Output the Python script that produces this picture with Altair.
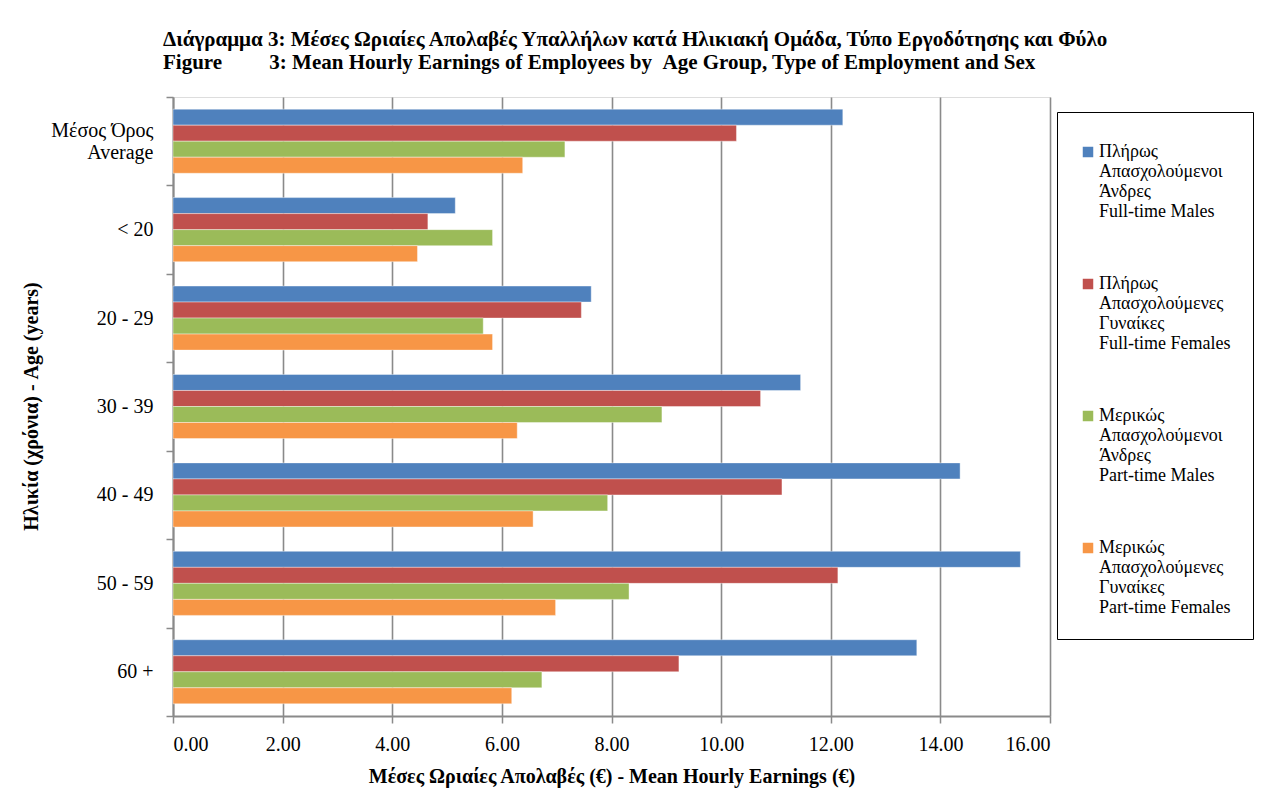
import altair as alt
import pandas as pd

NB = "\u00a0"
categories = ["Μέσος Όρος|Average" + NB * 4, "< 20", "20 - 29", "30 - 39", "40 - 49", "50 - 59", "60 +"]
series = [
    "Πλήρως|Απασχολούμενοι|Άνδρες|Full-time Males",
    "Πλήρως|Απασχολούμενες|Γυναίκες|Full-time Females",
    "Μερικώς|Απασχολούμενοι|Άνδρες|Part-time Males",
    "Μερικώς|Απασχολούμενες|Γυναίκες|Part-time Females",
]
colors = ["#4F81BD", "#C0504D", "#9BBB59", "#F79646"]
full_time_males = [12.22, 5.15, 7.63, 11.45, 14.36, 15.46, 13.57]
full_time_females = [10.28, 4.65, 7.45, 10.72, 11.11, 12.13, 9.23]
part_time_males = [7.15, 5.83, 5.66, 8.92, 7.93, 8.32, 6.73]
part_time_females = [6.38, 4.46, 5.83, 6.28, 6.57, 6.98, 6.18]
x_ticks = [0, 2, 4, 6, 8, 10, 12, 14, 16]

values = [full_time_males, full_time_females, part_time_males, part_time_females]
rows = []
for s, vals in zip(series, values):
    for c, v in zip(categories, vals):
        rows.append({"age": c, "series": s, "value": v})
df = pd.DataFrame(rows)

FONT = "Liberation Serif"
title_lines = [
    "Διάγραμμα 3: Μέσες Ωριαίες Απολαβές Υπαλλήλων κατά Ηλικιακή Ομάδα, Τύπο Εργοδότησης και Φύλο",
    "Figure" + NB * 9 + "3: Mean Hourly Earnings of Employees by" + NB * 2 + "Age Group, Type of Employment and Sex",
]

chart = alt.Chart(df).mark_bar(stroke="white", strokeOpacity=0.5, strokeWidth=0.8).encode(
    x=alt.X("value:Q",
            scale=alt.Scale(domain=[0, 16], nice=False),
            axis=alt.Axis(values=x_ticks, format=".2f", title="Μέσες Ωριαίες Απολαβές (€) - Mean Hourly Earnings (€)",
                          grid=True, gridColor="#8a8a8a", gridWidth=1.6,
                          domainColor="#8a8a8a", domainWidth=2,
                          tickColor="#8a8a8a", tickSize=7, tickWidth=1.5,
                          labelFont=FONT, labelFontSize=20, labelColor="black", labelPadding=11,
                          titleFont=FONT, titleFontSize=20, titleFontWeight="bold", titleColor="black",
                          titleY=60, titleBaseline="middle")),
    y=alt.Y("age:N", sort=categories,
            scale=alt.Scale(paddingInner=0, paddingOuter=0),
            axis=alt.Axis(title="Ηλικία (χρόνια) - Age (years)", labelExpr="split(datum.label, '|')",
                          tickBand="extent", grid=False,
                          domainColor="#8a8a8a", domainWidth=2,
                          tickColor="#8a8a8a", tickSize=7, tickWidth=1.5,
                          labelFont=FONT, labelFontSize=20, labelColor="black", labelPadding=13,
                          labelLineHeight=22,
                          labelOffset={"condition": {"test": "indexof(datum.label, '|') >= 0", "value": -11}, "value": 0},
                          titleFont=FONT, titleFontSize=20, titleFontWeight="bold", titleColor="black",
                          titleX=-142, titleY=309, titleBaseline="middle", titleAngle=-90)),
    yOffset=alt.YOffset("series:N", sort=series, scale=alt.Scale(paddingInner=0, paddingOuter=0.76)),
    color=alt.Color("series:N", sort=series,
                    scale=alt.Scale(domain=series, range=colors),
                    legend=alt.Legend(title=" ", titleFontSize=2, titlePadding=7,
                                      orient="none", legendX=884, legendY=15,
                                      labelExpr="split(datum.label, '|')",
                                      labelFont=FONT, labelFontSize=18, labelColor="black",
                                      labelLimit=400, labelBaseline="middle", labelOffset=2,
                                      symbolType="square", symbolSize=110, symbolStrokeWidth=0,
                                      rowPadding=54, padding=22,
                                      strokeColor="black", fillColor="white")),
).properties(
    width=877,
    height=619,
    title=alt.TitleParams(title_lines, anchor="start", frame="group", dx=-10, offset=14,
                          font=FONT, fontSize=21, fontWeight="bold", color="black", lineHeight=23),
    padding={"left": 165, "top": 89, "right": 218, "bottom": 75},
    autosize=alt.AutoSizeParams(type="none"),
).configure_view(
    stroke="black", strokeWidth=1.5
).configure(background="white")

chart.save("out.html", embed_options={"renderer": "svg", "actions": False})
